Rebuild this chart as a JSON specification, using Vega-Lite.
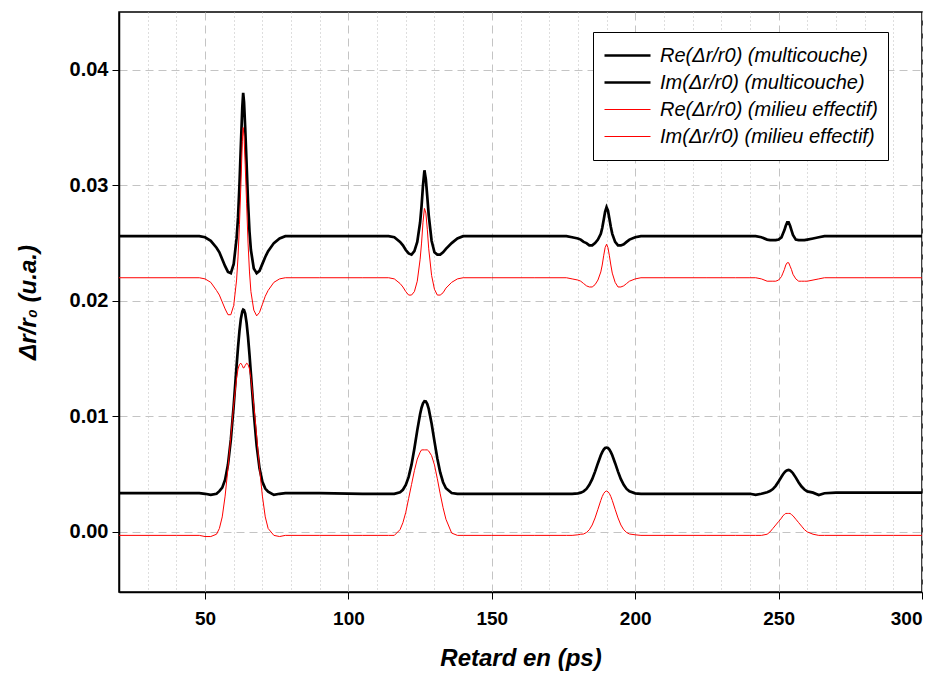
{
  "$schema": "https://vega.github.io/schema/vega-lite/v6.json",
  "width": 803,
  "height": 580,
  "autosize": "none",
  "padding": {"left": 119, "top": 12, "right": 22, "bottom": 83},
  "background": "white",
  "config": {
    "view": {"stroke": "black", "strokeWidth": 1.5},
    "axis": {"domainColor": "black", "domainWidth": 1.5, "tickColor": "black", "tickSize": 7, "gridColor": "#c4c4c4", "gridWidth": 1}
  },
  "data": {"values": [
    {"x":20,"a":0.0256,"b":0.00335,"c":0.0220,"d":-0.0003},
    {"x":40,"a":0.0256,"b":0.00335,"c":0.0220,"d":-0.0003},
    {"x":48,"a":0.0256,"b":0.00335,"c":0.0220,"d":-0.0003},
    {"x":50,"a":0.0255,"b":0.0033,"c":0.0219,"d":-0.0004},
    {"x":52,"a":0.0252,"b":0.0032,"c":0.0216,"d":-0.0004},
    {"x":54,"a":0.0246,"b":0.0033,"c":0.0209,"d":-0.0002},
    {"x":55,"a":0.0242,"b":0.00353,"c":0.0205,"d":0.0003},
    {"x":56,"a":0.0236,"b":0.00383,"c":0.0199,"d":0.0013},
    {"x":57,"a":0.0230,"b":0.00452,"c":0.0193,"d":0.0031},
    {"x":58,"a":0.0225,"b":0.00583,"c":0.0188,"d":0.0055},
    {"x":59,"a":0.0224,"b":0.00798,"c":0.0188,"d":0.0083},
    {"x":60,"a":0.0232,"b":0.01095,"c":0.0196,"d":0.0110},
    {"x":61,"a":0.0254,"b":0.01437,"c":0.0218,"d":0.0133},
    {"x":61.5,"a":0.0272,"b":0.01598,"c":0.0238,"d":0.0141},
    {"x":62,"a":0.0300,"b":0.01738,"c":0.0266,"d":0.0145},
    {"x":62.5,"a":0.0335,"b":0.01846,"c":0.0300,"d":0.0146},
    {"x":63,"a":0.0368,"b":0.01909,"c":0.0338,"d":0.0144},
    {"x":63.3,"a":0.0380,"b":0.01924,"c":0.0350,"d":0.0142},
    {"x":63.6,"a":0.0372,"b":0.01920,"c":0.0342,"d":0.0142},
    {"x":64,"a":0.0350,"b":0.01889,"c":0.0318,"d":0.0144},
    {"x":64.5,"a":0.0318,"b":0.01807,"c":0.0284,"d":0.0146},
    {"x":65,"a":0.0285,"b":0.01685,"c":0.0250,"d":0.0145},
    {"x":65.5,"a":0.0260,"b":0.01535,"c":0.0225,"d":0.0141},
    {"x":66,"a":0.0244,"b":0.01368,"c":0.0208,"d":0.0133},
    {"x":67,"a":0.0228,"b":0.01030,"c":0.0192,"d":0.0110},
    {"x":68,"a":0.0224,"b":0.00747,"c":0.0187,"d":0.0083},
    {"x":69,"a":0.0226,"b":0.00550,"c":0.0190,"d":0.0055},
    {"x":70,"a":0.0232,"b":0.00434,"c":0.0197,"d":0.0031},
    {"x":71,"a":0.0238,"b":0.00375,"c":0.0204,"d":0.0013},
    {"x":72,"a":0.0243,"b":0.00349,"c":0.0209,"d":0.0003},
    {"x":74,"a":0.0250,"b":0.0032,"c":0.0216,"d":-0.0003},
    {"x":76,"a":0.0254,"b":0.0033,"c":0.0219,"d":-0.0004},
    {"x":78,"a":0.0256,"b":0.00335,"c":0.0220,"d":-0.0003},
    {"x":90,"a":0.0256,"b":0.00335,"c":0.0220,"d":-0.0003},
    {"x":105,"a":0.0256,"b":0.0033,"c":0.0220,"d":-0.0003},
    {"x":110,"a":0.0256,"b":0.0033,"c":0.0220,"d":-0.0003},
    {"x":114,"a":0.0256,"b":0.0033,"c":0.0220,"d":-0.0003},
    {"x":116,"a":0.0255,"b":0.0033,"c":0.0219,"d":-0.0003},
    {"x":118,"a":0.0251,"b":0.00344,"c":0.0215,"d":0.0002},
    {"x":119,"a":0.0248,"b":0.00365,"c":0.0212,"d":0.0008},
    {"x":120,"a":0.0244,"b":0.00406,"c":0.0208,"d":0.0017},
    {"x":121,"a":0.0241,"b":0.00476,"c":0.0205,"d":0.0029},
    {"x":122,"a":0.0240,"b":0.00582,"c":0.0205,"d":0.0041},
    {"x":123,"a":0.0243,"b":0.00722,"c":0.0208,"d":0.0053},
    {"x":124,"a":0.0251,"b":0.00879,"c":0.0217,"d":0.0063},
    {"x":125,"a":0.0268,"b":0.01020,"c":0.0236,"d":0.0069},
    {"x":125.5,"a":0.0282,"b":0.01075,"c":0.0250,"d":0.0071},
    {"x":126,"a":0.0300,"b":0.01113,"c":0.0268,"d":0.0071},
    {"x":126.5,"a":0.0313,"b":0.01131,"c":0.0280,"d":0.0071},
    {"x":127,"a":0.0305,"b":0.01129,"c":0.0276,"d":0.0071},
    {"x":127.5,"a":0.0290,"b":0.01106,"c":0.0262,"d":0.0071},
    {"x":128,"a":0.0274,"b":0.01065,"c":0.0245,"d":0.0070},
    {"x":129,"a":0.0252,"b":0.00939,"c":0.0222,"d":0.0066},
    {"x":130,"a":0.0242,"b":0.00784,"c":0.0210,"d":0.0058},
    {"x":131,"a":0.0240,"b":0.00635,"c":0.0205,"d":0.0046},
    {"x":132,"a":0.0240,"b":0.00515,"c":0.0205,"d":0.0033},
    {"x":133,"a":0.0242,"b":0.00430,"c":0.0207,"d":0.0021},
    {"x":134,"a":0.0245,"b":0.00378,"c":0.0211,"d":0.0011},
    {"x":136,"a":0.0250,"b":0.00337,"c":0.0216,"d":-0.0001},
    {"x":138,"a":0.0254,"b":0.0033,"c":0.0219,"d":-0.0003},
    {"x":140,"a":0.0256,"b":0.0033,"c":0.0220,"d":-0.0003},
    {"x":150,"a":0.0256,"b":0.0033,"c":0.0220,"d":-0.0003},
    {"x":165,"a":0.0256,"b":0.0033,"c":0.0220,"d":-0.0003},
    {"x":176,"a":0.0256,"b":0.0033,"c":0.0220,"d":-0.0003},
    {"x":178,"a":0.0255,"b":0.0033,"c":0.0219,"d":-0.0003},
    {"x":180,"a":0.0254,"b":0.00334,"c":0.0218,"d":-0.00025},
    {"x":181,"a":0.0253,"b":0.0034,"c":0.0217,"d":-0.0002},
    {"x":182,"a":0.0251,"b":0.00351,"c":0.0215,"d":-0.00018},
    {"x":183,"a":0.0250,"b":0.00372,"c":0.0213,"d":-0.00005},
    {"x":184,"a":0.0248,"b":0.00407,"c":0.0212,"d":0.00019},
    {"x":185,"a":0.0248,"b":0.00457,"c":0.0212,"d":0.0006},
    {"x":186,"a":0.0250,"b":0.00522,"c":0.0214,"d":0.00121},
    {"x":187,"a":0.0253,"b":0.00595,"c":0.0218,"d":0.00196},
    {"x":188,"a":0.0258,"b":0.00663,"c":0.0225,"d":0.00273},
    {"x":188.5,"a":0.0263,"b":0.00691,"c":0.0231,"d":0.00306},
    {"x":189,"a":0.0270,"b":0.00712,"c":0.0239,"d":0.00332},
    {"x":189.5,"a":0.0277,"b":0.00726,"c":0.0246,"d":0.00348},
    {"x":190,"a":0.0281,"b":0.0073,"c":0.0249,"d":0.00354},
    {"x":190.5,"a":0.0278,"b":0.00726,"c":0.0246,"d":0.00348},
    {"x":191,"a":0.0271,"b":0.00712,"c":0.0239,"d":0.00332},
    {"x":191.5,"a":0.0264,"b":0.00691,"c":0.0231,"d":0.00306},
    {"x":192,"a":0.0258,"b":0.00663,"c":0.0224,"d":0.00273},
    {"x":193,"a":0.0251,"b":0.00595,"c":0.0216,"d":0.00196},
    {"x":194,"a":0.0248,"b":0.00522,"c":0.0212,"d":0.00121},
    {"x":195,"a":0.0248,"b":0.00457,"c":0.0212,"d":0.0006},
    {"x":196,"a":0.0249,"b":0.00407,"c":0.0213,"d":0.00019},
    {"x":197,"a":0.0251,"b":0.00372,"c":0.0215,"d":-0.00005},
    {"x":198,"a":0.0253,"b":0.00351,"c":0.0217,"d":-0.00018},
    {"x":200,"a":0.0255,"b":0.00334,"c":0.0219,"d":-0.00025},
    {"x":202,"a":0.0256,"b":0.0033,"c":0.0220,"d":-0.0003},
    {"x":210,"a":0.0256,"b":0.0033,"c":0.0220,"d":-0.0003},
    {"x":225,"a":0.0256,"b":0.0033,"c":0.0220,"d":-0.0003},
    {"x":235,"a":0.0256,"b":0.0033,"c":0.0220,"d":-0.0003},
    {"x":240,"a":0.0256,"b":0.0033,"c":0.0220,"d":-0.0003},
    {"x":242,"a":0.0256,"b":0.0032,"c":0.0220,"d":-0.0003},
    {"x":244,"a":0.0255,"b":0.0033,"c":0.0219,"d":-0.0003},
    {"x":246,"a":0.0253,"b":0.00344,"c":0.0217,"d":-0.0002},
    {"x":247,"a":0.02525,"b":0.00353,"c":0.0217,"d":0.0000},
    {"x":248,"a":0.02525,"b":0.00371,"c":0.0217,"d":0.0003},
    {"x":249,"a":0.02525,"b":0.00399,"c":0.0217,"d":0.0006},
    {"x":250,"a":0.0253,"b":0.00437,"c":0.0218,"d":0.0009},
    {"x":251,"a":0.0255,"b":0.00478,"c":0.0221,"d":0.0012},
    {"x":251.5,"a":0.0258,"b":0.00497,"c":0.0224,"d":0.0014},
    {"x":252,"a":0.0261,"b":0.00514,"c":0.0227,"d":0.0015},
    {"x":252.5,"a":0.0265,"b":0.00527,"c":0.0231,"d":0.0016},
    {"x":253,"a":0.0268,"b":0.00534,"c":0.0233,"d":0.0016},
    {"x":253.5,"a":0.0268,"b":0.00536,"c":0.0233,"d":0.0016},
    {"x":254,"a":0.0265,"b":0.00532,"c":0.0230,"d":0.0016},
    {"x":254.5,"a":0.0261,"b":0.00522,"c":0.0227,"d":0.0015},
    {"x":255,"a":0.0257,"b":0.00508,"c":0.0223,"d":0.0014},
    {"x":256,"a":0.0253,"b":0.0047,"c":0.0219,"d":0.0011},
    {"x":257,"a":0.02525,"b":0.00428,"c":0.0217,"d":0.0008},
    {"x":258,"a":0.02525,"b":0.00393,"c":0.0217,"d":0.0005},
    {"x":259,"a":0.02525,"b":0.00367,"c":0.0217,"d":0.0002},
    {"x":260,"a":0.0253,"b":0.00351,"c":0.0217,"d":0.0000},
    {"x":262,"a":0.0254,"b":0.0034,"c":0.0218,"d":-0.0002},
    {"x":264,"a":0.0255,"b":0.0032,"c":0.0219,"d":-0.0003},
    {"x":266,"a":0.0256,"b":0.00335,"c":0.0220,"d":-0.0003},
    {"x":270,"a":0.0256,"b":0.0034,"c":0.0220,"d":-0.0003},
    {"x":280,"a":0.0256,"b":0.0034,"c":0.0220,"d":-0.0003},
    {"x":290,"a":0.0256,"b":0.0034,"c":0.0220,"d":-0.0003},
    {"x":300,"a":0.0256,"b":0.0034,"c":0.0220,"d":-0.0003}
  ]},
  "transform": [{"fold": ["a", "b", "c", "d"], "as": ["s", "y"]}],
  "layer": [
    {
      "mark": {"type": "line", "opacity": 0},
      "encoding": {
        "x": {"field": "x", "type": "quantitative", "scale": {"domain": [20, 300], "nice": false, "zero": false},
          "axis": {"orient": "bottom", "values": [30, 40, 60, 70, 80, 90, 110, 120, 130, 140, 160, 170, 180, 190, 210, 220, 230, 240, 260, 270, 280, 290],
            "grid": true, "gridDash": [1, 3], "gridColor": "#bdbdbd", "labels": false, "ticks": false, "domain": false, "title": null}},
        "y": {"field": "y", "type": "quantitative", "scale": {"domain": [-0.0052, 0.045], "nice": false, "zero": false}},
        "detail": {"field": "s"}
      }
    },
    {
      "mark": {"type": "line", "interpolate": "linear"},
      "encoding": {
        "x": {"field": "x", "type": "quantitative",
          "axis": {"orient": "bottom", "values": [50, 100, 150, 200, 250, 300], "grid": true, "gridDash": [8, 5],
            "labelFont": "Liberation Sans, Arial", "labelFontWeight": "bold", "labelFontSize": 19, "labelColor": "black", "labelPadding": 10,
            "title": "Retard en (ps)", "titleFont": "Liberation Sans, Arial", "titleFontWeight": "bold", "titleFontStyle": "italic", "titleFontSize": 24, "titleColor": "black", "titlePadding": 18}},
        "y": {"field": "y", "type": "quantitative",
          "axis": {"values": [0, 0.01, 0.02, 0.03, 0.04], "format": ".2f", "grid": true, "gridDash": [8, 5],
            "labelFont": "Liberation Sans, Arial", "labelFontWeight": "bold", "labelFontSize": 20, "labelColor": "black", "labelPadding": 4,
            "title": "Δr/r₀ (u.a.)", "titleFont": "Liberation Sans, Arial", "titleFontWeight": "bold", "titleFontStyle": "italic", "titleFontSize": 24, "titleColor": "black", "titlePadding": 29}},
        "color": {"field": "s", "type": "nominal",
          "scale": {"domain": ["a", "b", "c", "d"], "range": ["#000000", "#000000", "#ff0000", "#ff0000"]},
          "legend": {"title": null, "orient": "none", "legendX": 474, "legendY": 20, "direction": "vertical",
            "fillColor": "white", "strokeColor": "black", "padding": 10,
            "symbolType": "stroke", "symbolSize": 2116, "clipHeight": 27, "rowPadding": 0, "labelOffset": 8,
            "labelFont": "Liberation Sans, Arial", "labelFontStyle": "italic", "labelFontSize": 20, "labelColor": "black", "labelLimit": 400,
            "labelExpr": "datum.label == 'a' ? 'Re(Δr/r0) (multicouche)\u00a0\u00a0\u00a0' : datum.label == 'b' ? 'Im(Δr/r0) (multicouche)' : datum.label == 'c' ? 'Re(Δr/r0) (milieu effectif)' : 'Im(Δr/r0) (milieu effectif)'"}},
        "strokeWidth": {"field": "s", "type": "nominal",
          "scale": {"type": "ordinal", "domain": ["a", "b", "c", "d"], "range": [2.7, 2.7, 1, 1]}}
      }
    }
  ],
  "resolve": {"axis": {"x": "independent"}}
}
